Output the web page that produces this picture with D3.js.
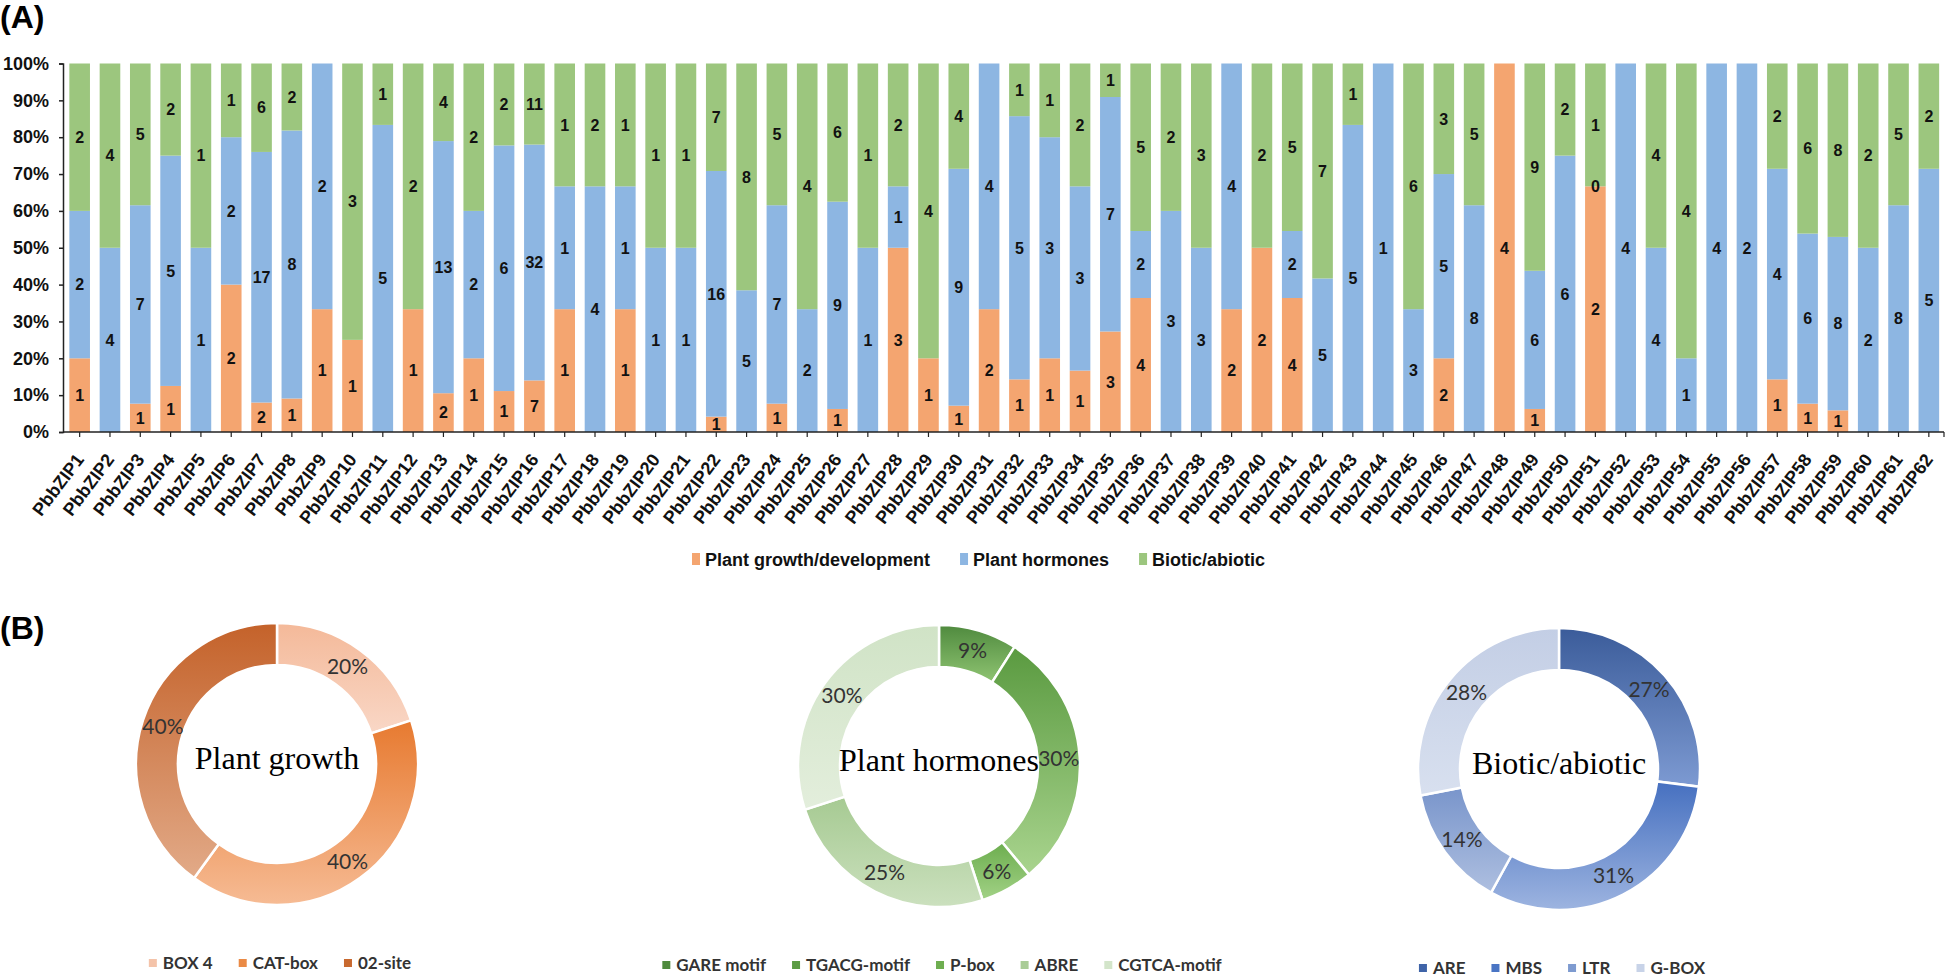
<!DOCTYPE html>
<html><head><meta charset="utf-8">
<script src="https://cdn.jsdelivr.net/npm/d3@7"></script>
<style>body{margin:0;background:#fff;} svg{display:block;background:#fff;}</style>
</head><body><svg id="chart" width="1946" height="978"></svg>
<script>
// ---------- DATA ----------
const genes = ["PbbZIP1","PbbZIP2","PbbZIP3","PbbZIP4","PbbZIP5","PbbZIP6","PbbZIP7","PbbZIP8","PbbZIP9","PbbZIP10",
"PbbZIP11","PbbZIP12","PbbZIP13","PbbZIP14","PbbZIP15","PbbZIP16","PbbZIP17","PbbZIP18","PbbZIP19","PbbZIP20",
"PbbZIP21","PbbZIP22","PbbZIP23","PbbZIP24","PbbZIP25","PbbZIP26","PbbZIP27","PbbZIP28","PbbZIP29","PbbZIP30",
"PbbZIP31","PbbZIP32","PbbZIP33","PbbZIP34","PbbZIP35","PbbZIP36","PbbZIP37","PbbZIP38","PbbZIP39","PbbZIP40",
"PbbZIP41","PbbZIP42","PbbZIP43","PbbZIP44","PbbZIP45","PbbZIP46","PbbZIP47","PbbZIP48","PbbZIP49","PbbZIP50",
"PbbZIP51","PbbZIP52","PbbZIP53","PbbZIP54","PbbZIP55","PbbZIP56","PbbZIP57","PbbZIP58","PbbZIP59","PbbZIP60",
"PbbZIP61","PbbZIP62"];
const growth   = [1,0,1,1,0,2,2,1,1,1, 0,1,2,1,1,7,1,0,1,0, 0,1,0,1,0,1,0,3,1,1, 2,1,1,1,3,4,0,0,2,2, 4,0,0,0,0,2,0,4,1,0, 2,0,0,0,0,0,1,1,1,0, 0,0];
const hormones = [2,4,7,5,1,2,17,8,2,0, 5,0,13,2,6,32,1,4,1,1, 1,16,5,7,2,9,1,1,0,9, 4,5,3,3,7,2,3,3,4,0, 2,5,5,1,3,5,8,0,6,6, 0,4,4,1,4,2,4,6,8,2, 8,5];
const biotic   = [2,4,5,2,1,1,6,2,0,3, 1,2,4,2,2,11,1,2,1,1, 1,7,8,5,4,6,1,2,4,4, 0,1,1,2,1,5,2,3,0,2, 5,7,1,0,6,3,5,0,9,2, 1,0,4,4,0,0,2,6,8,2, 5,2];
const shownZeroLabels = [{gene:"PbbZIP51", key:"hormones"}];
const seriesKeys = ["growth","hormones","biotic"];
const seriesNames = ["Plant growth/development","Plant hormones","Biotic/abiotic"];
const yTicks = [0,0.1,0.2,0.3,0.4,0.5,0.6,0.7,0.8,0.9,1];

const growthMotifs = ["BOX 4","CAT-box","02-site"];
const growthPct = [20,40,40];
const hormoneMotifs = ["GARE motif","TGACG-motif","P-box","ABRE","CGTCA-motif"];
const hormonePct = [9,30,6,25,30];
const bioticMotifs = ["ARE","MBS","LTR","G-BOX"];
const bioticPct = [27,31,14,28];

// ---------- STYLE ----------
const seriesColors = ["#f4a570","#8db6e2","#9cc67e"];
const svg = d3.select("#chart");
const defs = svg.append("defs");
const boldSans = "'Liberation Sans', Arial, sans-serif";
const narrowSans = "'Liberation Sans Narrow', 'Arial Narrow', 'Liberation Sans', sans-serif";
const calibriLike = "Lato, 'Open Sans', sans-serif";

// ---------- PANEL A ----------
svg.append("text").attr("x",0).attr("y",28).attr("font-family",boldSans).attr("font-weight","bold")
  .attr("font-size",32).text("(A)");

const rows = genes.map((g,i)=>({gene:g, growth:growth[i], hormones:hormones[i], biotic:biotic[i]}));
const stack = d3.stack().keys(seriesKeys).offset(d3.stackOffsetExpand);
const stacked = stack(rows);

const x = d3.scaleBand().domain(genes).range([64.5,1944]).paddingInner(0.32).paddingOuter(0.16);
const y = d3.scaleLinear().domain([0,1]).range([432,63.5]);

const layers = svg.append("g").selectAll("g").data(stacked).join("g")
  .attr("fill",(d,i)=>seriesColors[i]);
layers.selectAll("rect").data(d=>d).join("rect")
  .attr("x",d=>x(d.data.gene)).attr("width",x.bandwidth())
  .attr("y",d=>y(d[1])).attr("height",d=>Math.max(0,y(d[0])-y(d[1])));

// segment labels
const labelData = [];
stacked.forEach(layer=>{
  layer.forEach(d=>{
    const v = d.data[layer.key];
    const showZero = shownZeroLabels.some(z=>z.gene===d.data.gene && z.key===layer.key);
    if (v>0 || showZero) labelData.push({gene:d.data.gene, v, mid:(d[0]+d[1])/2});
  });
});
svg.append("g").selectAll("text").data(labelData).join("text")
  .attr("x",d=>x(d.gene)+x.bandwidth()/2).attr("y",d=>y(d.mid)).attr("dy","0.36em")
  .attr("text-anchor","middle").attr("font-family",narrowSans).attr("font-weight","bold")
  .attr("font-size",16).attr("fill","#111").text(d=>d.v);

// y axis
const yAxis = svg.append("g").attr("transform","translate(63,0)")
  .call(d3.axisLeft(y).tickValues(yTicks).tickFormat(d3.format(".0%")).tickSize(4).tickSizeOuter(4).tickPadding(10));
yAxis.selectAll("text").attr("font-family",boldSans).attr("font-weight","bold").attr("font-size",18).attr("fill","#111");
yAxis.selectAll("line,path").attr("stroke","#222").attr("stroke-width",1.5);

// x axis
const xAxis = svg.append("g").attr("transform","translate(0,432)")
  .call(d3.axisBottom(x).tickSize(5).tickSizeOuter(0));
xAxis.select(".domain").attr("d","M63,0H1944").attr("stroke","#222").attr("stroke-width",1.5);
xAxis.selectAll("line").attr("stroke","#222").attr("stroke-width",1.2);
xAxis.selectAll("text").attr("font-family",boldSans).attr("font-weight","bold").attr("font-size",18)
  .attr("fill","#111").attr("text-anchor","end").attr("x",0).attr("y",0).attr("dy","0.35em")
  .attr("transform","translate(0,24) rotate(-53)");
xAxis.append("line").attr("x1",1944).attr("x2",1944).attr("y1",0).attr("y2",5).attr("stroke","#222").attr("stroke-width",1.2);

// main legend
const leg = svg.append("g");
let lx = 692;
seriesNames.forEach((name,i)=>{
  leg.append("rect").attr("x",lx).attr("y",553).attr("width",8).attr("height",12).attr("fill",seriesColors[i]);
  const t = leg.append("text").attr("x",lx+13).attr("y",566).attr("font-family",boldSans).attr("font-weight","bold")
    .attr("font-size",18).attr("fill","#111").text(name);
  lx += 13 + t.node().getComputedTextLength() + 30;
});

// ---------- PANEL B ----------
svg.append("text").attr("x",0).attr("y",639).attr("font-family",boldSans).attr("font-weight","bold")
  .attr("font-size",32).text("(B)");

const pies = [
  {title:"Plant growth", names:growthMotifs, values:growthPct, cx:277, cy:764,
   grads:[["#f4b999","#f9d7c6"],["#e77a30","#f6bb94"],["#c4622a","#e2aa88"]],
   swatch:["#f4c3a9","#ea8a45","#c8692f"]},
  {title:"Plant hormones", names:hormoneMotifs, values:hormonePct, cx:939, cy:766,
   grads:[["#4f8a3e","#8fc472"],["#5a9a40","#a9d48e"],["#6cad4e","#a2d286"],["#a6ca92","#cbe0be"],["#d0e3c6","#e3eedc"]],
   swatch:["#4f8a3d","#5c9c44","#6eae50","#a9cc96","#d3e5ca"]},
  {title:"Biotic/abiotic", names:bioticMotifs, values:bioticPct, cx:1559, cy:769,
   grads:[["#3b5c9a","#7d9ad2"],["#4670c0","#9db4e0"],["#7995cb","#aebfe0"],["#c3cee5","#d8e0ef"]],
   swatch:["#3f64a8","#4a75c4","#7e9bd0","#c8d3e8"]}
];
const pieGen = d3.pie().sort(null).value(d=>d.v);
const arc = d3.arc().innerRadius(99).outerRadius(141);
const labelArc = d3.arc().innerRadius(120).outerRadius(120);

pies.forEach((p,pi)=>{
  const data = p.names.map((n,i)=>({n, v:p.values[i], i}));
  p.grads.forEach((gc,i)=>{
    const lg = defs.append("linearGradient").attr("id",`g${pi}_${i}`).attr("x1",0).attr("y1",0).attr("x2",0).attr("y2",1);
    lg.append("stop").attr("offset","0%").attr("stop-color",gc[0]);
    lg.append("stop").attr("offset","100%").attr("stop-color",gc[1]);
  });
  const g = svg.append("g").attr("transform",`translate(${p.cx},${p.cy})`);
  const arcs = pieGen(data);
  g.selectAll("path").data(arcs).join("path").attr("d",arc)
    .attr("fill",d=>`url(#g${pi}_${d.data.i})`).attr("stroke","#fff").attr("stroke-width",2.5);
  g.selectAll("text.pct").data(arcs).join("text").attr("class","pct")
    .attr("transform",d=>`translate(${labelArc.centroid(d)})`).attr("dy","0.36em")
    .attr("text-anchor","middle").attr("font-family",calibriLike).attr("font-size",21)
    .attr("fill","#333").text(d=>d.data.v+"%");
  g.append("text").attr("y",5).attr("text-anchor","middle").attr("font-family","'Liberation Serif', 'Times New Roman', serif")
    .attr("font-size",32).attr("fill","#000").text(p.title);
  // legend
  const lgG = svg.append("g");
  let px = 0;
  p.names.forEach((n,i)=>{
    const it = lgG.append("g").attr("transform",`translate(${px},0)`);
    it.append("rect").attr("x",0).attr("y",-10).attr("width",8).attr("height",8).attr("fill",p.swatch[i]);
    const t = it.append("text").attr("x",14).attr("y",0).attr("font-family",calibriLike)
      .attr("font-weight","bold").attr("font-size",17).attr("fill","#333").text(n);
    px += 14 + t.node().getComputedTextLength() + 26;
  });
  const total = px - 26;
  lgG.attr("transform",`translate(${p.cx + 3 - total/2},${p.cy+205})`);
});
</script>
</body></html>
